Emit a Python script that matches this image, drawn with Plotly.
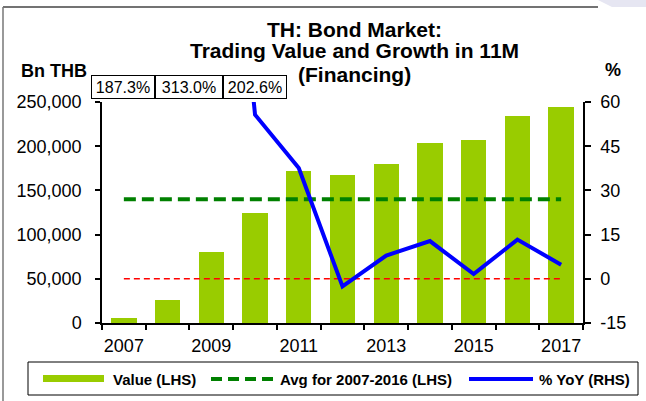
import plotly.graph_objects as go

years = [2007, 2008, 2009, 2010, 2011, 2012, 2013, 2014, 2015, 2016, 2017]
value_bn_thb = [6000, 26000, 80000, 124500, 172000, 167000, 180000, 203500, 206500, 234000, 244500]
avg_2007_2016 = [140000, 140000, 140000, 140000, 140000, 140000, 140000, 140000, 140000, 140000, 140000]
yoy_pct = [187.3, 313.0, 202.6, 55.7, 37.6, -2.6, 7.9, 12.8, 1.6, 13.3, 4.8]
zero_line = [0, 0, 0, 0, 0, 0, 0, 0, 0, 0, 0]
left_ticks = [0, 50000, 100000, 150000, 200000, 250000]
right_ticks = [-15, 0, 15, 30, 45, 60]
label_years = [2007, 2009, 2011, 2013, 2015, 2017]
boundaries = [2006.5, 2007.5, 2008.5, 2009.5, 2010.5, 2011.5, 2012.5, 2013.5, 2014.5, 2015.5, 2016.5, 2017.5]

W, H = 646, 401
L, R, T, B = 102, 583, 102, 323
FONT = "Arial, Liberation Sans, sans-serif"

def px(x):
    return (x - L) / (R - L)

def py(y):
    return (B - y) / (B - T)

fig = go.Figure()
fig.add_trace(go.Bar(x=years, y=value_bn_thb, width=0.58, marker=dict(color="#99CC00", line=dict(width=0)),
                     name="Value (LHS)", showlegend=False))
fig.add_trace(go.Scatter(x=years, y=avg_2007_2016, mode="lines",
                         line=dict(color="#008000", width=4, dash="12px,6px"),
                         name="Avg for 2007-2016 (LHS)", showlegend=False))
fig.add_trace(go.Scatter(x=years, y=zero_line, mode="lines", yaxis="y2",
                         line=dict(color="#FF0000", width=1.5, dash="6px,4px"), showlegend=False))
fig.add_trace(go.Scatter(x=years, y=yoy_pct, mode="lines", yaxis="y2",
                         line=dict(color="#0000FF", width=4),
                         name="% YoY (RHS)", showlegend=False))

annotations = []
# title lines
for txt, yy in [("TH: Bond Market:", 29), ("Trading Value and Growth in 11M", 51), ("(Financing)", 74)]:
    annotations.append(dict(text="<b>%s</b>" % txt, x=px(354), y=py(yy), xref="paper", yref="paper",
                            xanchor="center", yanchor="middle", showarrow=False,
                            font=dict(family=FONT, size=21, color="black")))
annotations.append(dict(text="<b>Bn THB</b>", x=px(54), y=py(71), xref="paper", yref="paper",
                        xanchor="center", yanchor="middle", showarrow=False,
                        font=dict(family=FONT, size=18, color="black")))
annotations.append(dict(text="<b>%</b>", x=px(613), y=py(70), xref="paper", yref="paper",
                        xanchor="center", yanchor="middle", showarrow=False,
                        font=dict(family=FONT, size=18, color="black")))
# off-scale value boxes
for v, cx, w in zip(yoy_pct[:3], [123, 189, 255], [60, 64, 60]):
    annotations.append(dict(text="%.1f%%" % v, x=px(cx), y=py(87), xref="paper", yref="paper",
                            xanchor="center", yanchor="middle", showarrow=False, width=w, height=20,
                            bordercolor="black", borderwidth=1, borderpad=1, bgcolor="white",
                            font=dict(family=FONT, size=16, color="black")))
# legend texts
for txt, x0 in [("Value (LHS)", 111), ("Avg for 2007-2016 (LHS)", 278), ("% YoY (RHS)", 537)]:
    annotations.append(dict(text="<b>%s</b>" % txt, x=px(x0), y=py(379), xref="paper", yref="paper",
                            xanchor="left", yanchor="middle", showarrow=False,
                            font=dict(family=FONT, size=15, color="black")))

shapes = [
    # outer frame
    dict(type="line", xref="paper", yref="paper", x0=px(3), x1=px(598), y0=py(7), y1=py(7),
         line=dict(color="#444444", width=1.5)),
    dict(type="line", xref="paper", yref="paper", x0=px(3), x1=px(3), y0=py(7), y1=py(401),
         line=dict(color="#777777", width=1.5)),
    dict(type="path", xref="paper", yref="paper",
         path="M %f %f L %f %f L %f %f L %f %f Z" % (px(598), py(0), px(646), py(0), px(646), py(7), px(612), py(7)),
         fillcolor="#E6E6F2", line=dict(width=0)),
    # legend frame
    dict(type="rect", xref="paper", yref="paper", x0=px(28), x1=px(638), y0=py(395), y1=py(362),
         line=dict(color="black", width=1), fillcolor="rgba(0,0,0,0)"),
    dict(type="rect", xref="paper", yref="paper", x0=px(43), x1=px(104), y0=py(382), y1=py(375),
         line=dict(width=0), fillcolor="#99CC00"),
    dict(type="line", xref="paper", yref="paper", x0=px(211), x1=px(274), y0=py(379), y1=py(379),
         line=dict(color="#008000", width=4, dash="11px,6px")),
    dict(type="line", xref="paper", yref="paper", x0=px(469), x1=px(533), y0=py(379), y1=py(379),
         line=dict(color="#0000FF", width=4)),
]

fig.update_layout(
    width=W, height=H,
    margin=dict(l=L, r=W - R, t=T, b=H - B, pad=0),
    paper_bgcolor="white", plot_bgcolor="white",
    showlegend=False, bargap=0,
    font=dict(family=FONT, size=18, color="black"),
    xaxis=dict(range=[2006.5, 2017.5], tickmode="array", tickvals=label_years,
               ticktext=[str(y) for y in label_years], ticks="", showgrid=False, zeroline=False,
               showline=True, linecolor="black", linewidth=1.5, ticklabelstandoff=6,
               minor=dict(tickmode="array", tickvals=boundaries, ticks="outside", ticklen=5,
                          tickcolor="black", tickwidth=1.5, showgrid=False)),
    yaxis=dict(range=[0, 250000], tickmode="array", tickvals=left_ticks,
               ticktext=["{:,}".format(v) for v in left_ticks], ticks="outside", ticklen=5,
               tickcolor="black", tickwidth=1.5, showgrid=False, zeroline=False,
               showline=True, linecolor="black", linewidth=1.5, ticklabelstandoff=10),
    yaxis2=dict(range=[-15, 60], tickmode="array", tickvals=right_ticks,
                ticktext=[str(v) for v in right_ticks], overlaying="y", side="right",
                ticks="outside", ticklen=6, tickcolor="black", tickwidth=1.5, showgrid=False,
                zeroline=False, showline=True, linecolor="black", linewidth=1.5, ticklabelstandoff=6),
    annotations=annotations,
    shapes=shapes,
)

fig.write_html("out.html")
